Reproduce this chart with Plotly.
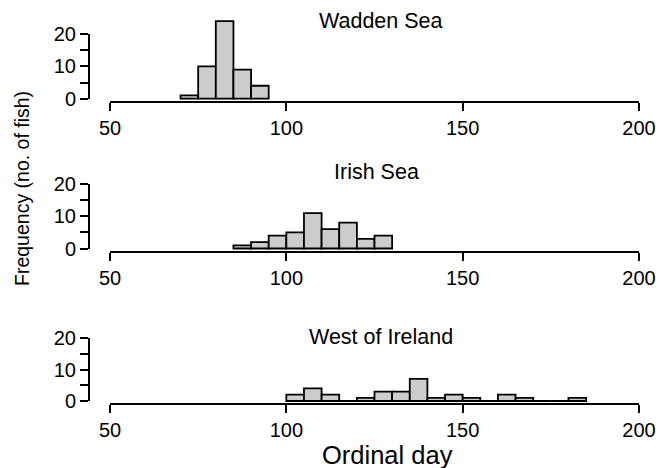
import plotly.graph_objects as go

# ---- data ----
bin_width = 5
wadden_start = 70
wadden_counts = [1, 10, 24, 9, 4]
irish_start = 85
irish_counts = [1, 2, 4, 5, 11, 6, 8, 3, 4]
west_start = 100
west_counts = [2, 4, 2, 0, 1, 3, 3, 7, 1, 2, 1, 0, 2, 1, 0, 0, 1]
panel_titles = ["Wadden Sea", "Irish Sea", "West of Ireland"]
x_ticks = [50, 100, 150, 200]
y_ticks = [0, 5, 10, 15, 20]
y_ticktext = ["0", "", "10", "", "20"]
x_title = "Ordinal day"
y_title = "Frequency (no. of fish)"

# ---- geometry (pixels) ----
W, H = 665, 468
panels_px = [(98.7, 34.0), (248.5, 184.0), (401.0, 338.0)]  # (zero px, twenty px)
title_py = [21, 172, 337]
title_px = [381, 376, 381]
x_left_px, x_right_px = 110, 639
yspine_px = 89
ymin, ymax = -0.7, 25
FONT = "Liberation Sans, Arial, Helvetica, sans-serif"

starts = [wadden_start, irish_start, west_start]
counts = [wadden_counts, irish_counts, west_counts]

fig = go.Figure()
layout = dict(
    width=W, height=H, autosize=False,
    margin=dict(l=0, r=0, t=0, b=0, pad=0, autoexpand=False),
    paper_bgcolor="white", plot_bgcolor="rgba(0,0,0,0)",
    showlegend=False,
    font=dict(family=FONT, color="black"),
)
annotations = []

for i in range(3):
    n = i + 1
    xs = "" if n == 1 else str(n)
    ys = "" if n == 1 else str(n)
    spine = str(n + 3)
    c = counts[i]
    centers = [starts[i] + bin_width * (k + 0.5) for k in range(len(c))]
    fig.add_trace(go.Scatter(
        x=[None], y=[None], mode="markers",
        xaxis="x" + xs, yaxis="y" + spine, hoverinfo="skip",
    ))
    fig.add_trace(go.Bar(
        x=centers, y=c, width=bin_width,
        marker=dict(color="#cccccc", line=dict(color="black", width=1.8)),
        xaxis="x" + xs, yaxis="y" + ys, hoverinfo="skip",
    ))
    z, t = panels_px[i]
    ppu = (z - t) / 20.0
    bottom_px = z - ymin * ppu
    top_px = z - ymax * ppu
    layout["xaxis" + xs] = dict(
        domain=[x_left_px / W, x_right_px / W], range=[50, 200],
        anchor="y" + ys, showline=True, linecolor="black", linewidth=2,
        ticks="outside", ticklen=8, tickwidth=2, tickcolor="black",
        tickvals=x_ticks, showgrid=False, zeroline=False, automargin=False,
        tickfont=dict(size=20, color="black", family=FONT),
    )
    layout["yaxis" + ys] = dict(
        domain=[1 - bottom_px / H, 1 - top_px / H], range=[ymin, ymax],
        anchor="x" + xs, visible=False, showgrid=False, zeroline=False,
        automargin=False,
    )
    layout["yaxis" + spine] = dict(
        domain=[1 - z / H, 1 - t / H], range=[0, 20],
        anchor="free", position=yspine_px / W,
        showline=True, linecolor="black", linewidth=2,
        ticks="outside", ticklen=8, tickwidth=2, tickcolor="black",
        tickvals=y_ticks, ticktext=y_ticktext, automargin=False,
        showgrid=False, zeroline=False,
        tickfont=dict(size=20, color="black", family=FONT),
    )
    annotations.append(dict(
        text=panel_titles[i], xref="paper", yref="paper",
        x=title_px[i] / W, y=1 - title_py[i] / H,
        xanchor="center", yanchor="middle", showarrow=False,
        font=dict(size=21.5, color="black", family=FONT),
    ))

annotations.append(dict(
    text=x_title, xref="paper", yref="paper",
    x=387 / W, y=1 - 455 / H, xanchor="center", yanchor="middle",
    showarrow=False, font=dict(size=25.5, color="black", family=FONT),
))
annotations.append(dict(
    text=y_title, xref="paper", yref="paper",
    x=22 / W, y=1 - 189 / H, xanchor="center", yanchor="middle",
    textangle=-90, showarrow=False,
    font=dict(size=19.5, color="black", family=FONT),
))
layout["annotations"] = annotations
fig.update_layout(**layout)
fig.write_html("out.html")
